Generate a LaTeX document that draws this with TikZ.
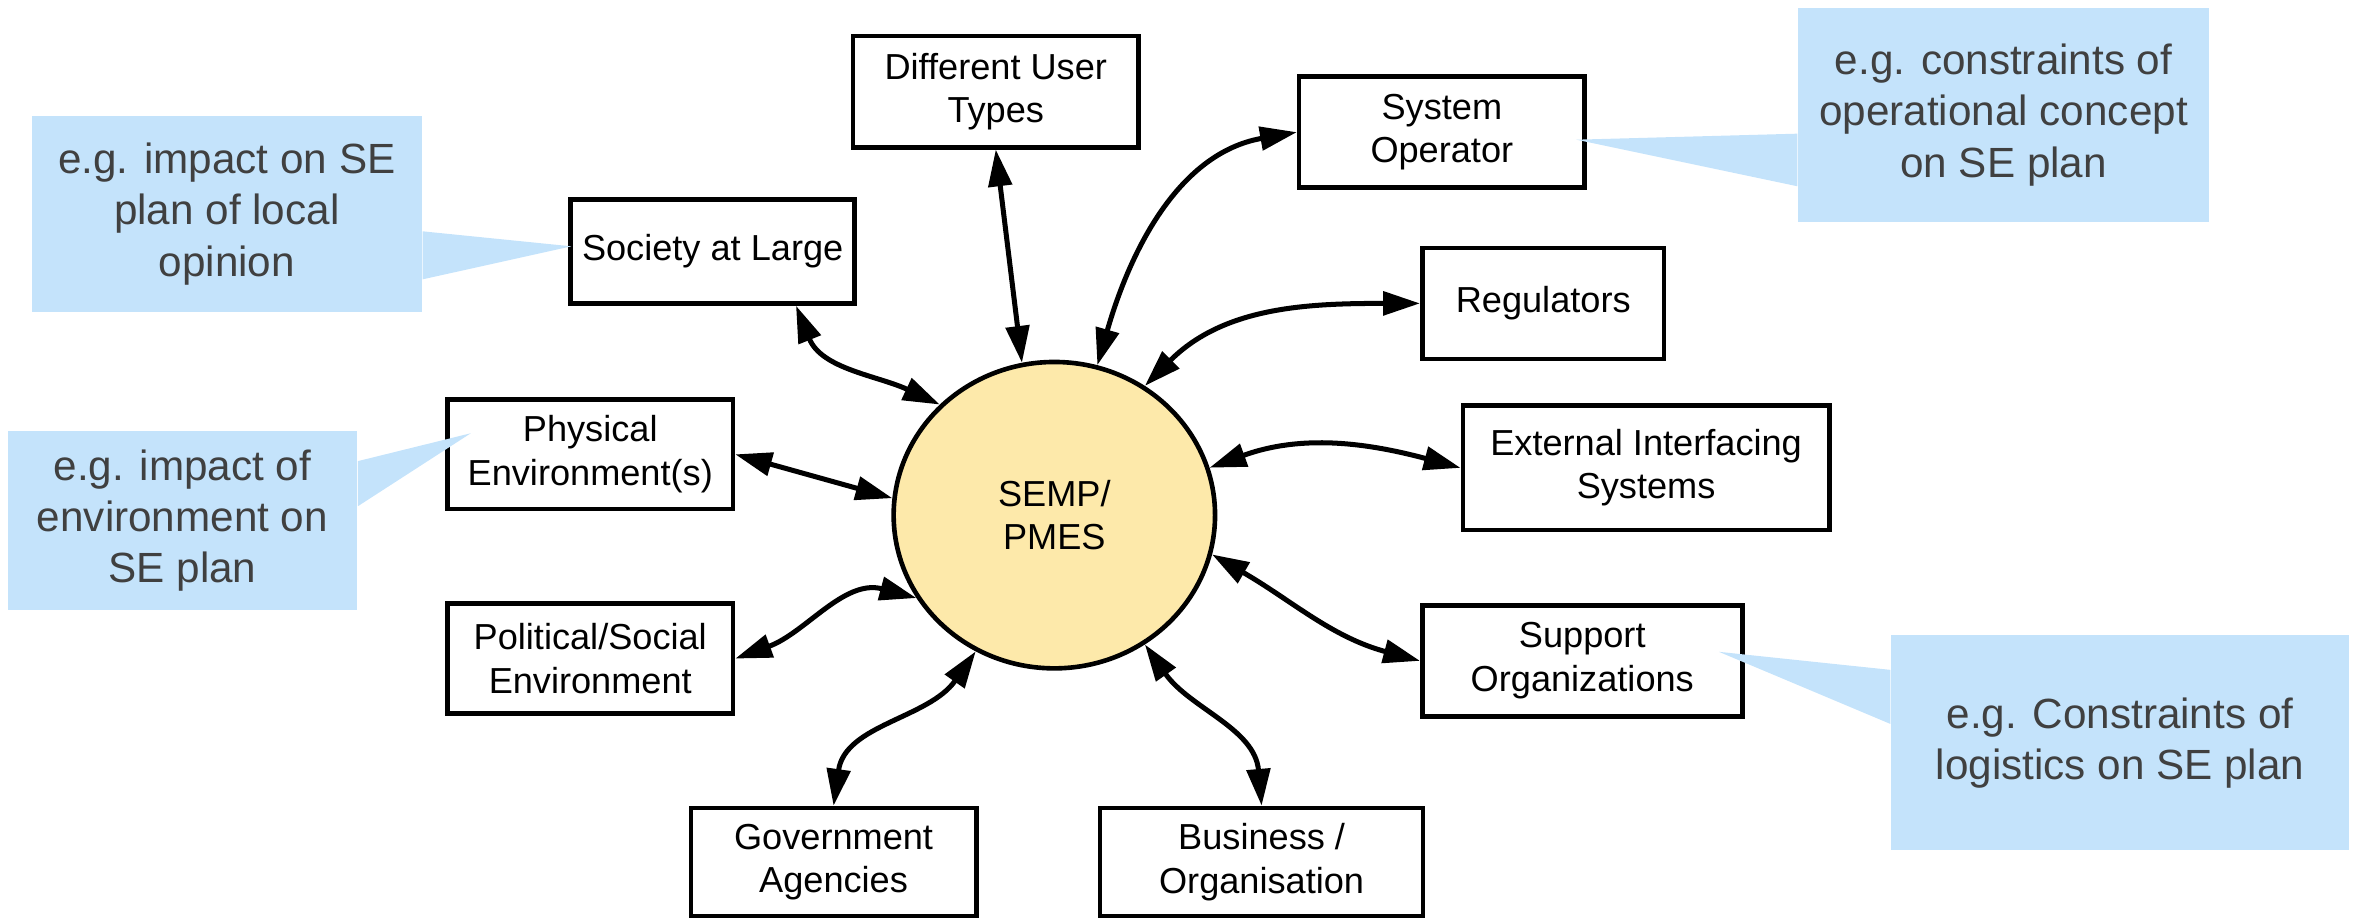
\documentclass[tikz,border=0pt]{standalone}
\usepackage{fontspec}
\setmainfont{Liberation Sans}
\usepackage{tikz}
\usetikzlibrary{arrows.meta, calc, shapes.geometric}

\definecolor{planfill}{RGB}{253,233,170}
\definecolor{notefill}{RGB}{196,227,251}
\definecolor{notetext}{RGB}{64,64,64}

\newcommand{\partyfont}{\fontsize{13.7}{16.5}\selectfont}
\newcommand{\notefont}{\fontsize{16}{19.4}\selectfont}

\begin{document}
\begin{tikzpicture}[x=0.2mm, y=0.2mm,
	party/.style={draw, line width=1.75pt, fill=white, align=center, inner sep=0pt, font=\partyfont},
	plan/.style={ellipse, draw, line width=1.75pt, fill=planfill, align=center, inner sep=0pt, font=\partyfont},
	note/.style={fill=notefill, text=notetext, align=center, inner sep=0pt, font=\notefont},
	link/.style={line width=1.9pt, {Triangle[length=4.9mm, width=3.1mm]}-{Triangle[length=4.9mm, width=3.1mm]}}]

	\useasboundingbox (0,0) rectangle (1568,-611);

	% centre
	\node[plan, minimum width=42.8mm, minimum height=40.8mm] (SEMP) at (702,-343) {SEMP/\\PMES};

	% stakeholders
	\node[party, minimum width=38mm, minimum height=14.8mm] (Users) at (663,-61) {Different User\\Types};
	\node[party, minimum width=38mm, minimum height=14.8mm] (Operator) at (960,-88) {System\\Operator};
	\node[party, minimum width=37.8mm, minimum height=13.8mm] (Society) at (474.5,-167.5) {Society at Large};
	\node[party, minimum width=32.2mm, minimum height=14.8mm] (Regulators) at (1027.5,-202) {Regulators};
	\node[party, minimum width=38mm, minimum height=14.6mm] (Physical) at (393,-302.5) {Physical\\Environment(s)};
	\node[party, minimum width=48.8mm, minimum height=16.6mm] (Interfaces) at (1096,-311.5) {External Interfacing\\Systems};
	\node[party, minimum width=38mm, minimum height=14.6mm] (Political) at (393,-438.5) {Political/Social\\Environment};
	\node[party, minimum width=42.6mm, minimum height=14.8mm] (Support) at (1053.5,-440) {Support\\Organizations};
	\node[party, minimum width=38mm, minimum height=14.4mm] (Government) at (555,-574) {Government\\Agencies};
	\node[party, minimum width=43mm, minimum height=14.4mm] (Business) at (840,-574) {Business /\\Organisation};

	\draw[link] (Users.south) -- (SEMP.102);
	\draw[link] (SEMP.74) to[out=74, in=190] (Operator.west);
	\draw[link] (SEMP.55) to[out=45, in=180] (Regulators.west);
	\draw[link] (SEMP.17) to[out=20, in=165] (Interfaces.west);
	\draw[link] (SEMP.-14) to[out=-30, in=165] (Support.west);
	\draw[link] (SEMP.-55) to[out=-55, in=95] (Business.north);
	\draw[link] (SEMP.240) to[out=235, in=82] (Government.north);
	\draw[link] (SEMP.211) to[out=165, in=20] (Political.east);
	\draw[link] (SEMP.174) -- (Physical.east);
	\draw[link] (SEMP.136) to[out=155, in=-68] (Society.-33);

	% callouts
	\node[note, minimum width=52mm, minimum height=26.2mm] (NoteSociety) at (151,-142.5) {e.g. impact on SE\\plan of local\\opinion};
	\node[note, minimum width=46.6mm, minimum height=23.8mm] (NoteEnvironment) at (121.5,-346.5) {e.g. impact of\\environment on\\SE plan};
	\node[note, minimum width=54.8mm, minimum height=28.6mm] (NoteOperator) at (1334,-76.5) {e.g. constraints of\\operational concept\\on SE plan};
	\node[note, minimum width=61mm, minimum height=28.6mm] (NoteSupport) at (1411.5,-494.5) {e.g. Constraints of\\logistics on SE plan};

	\fill[notefill] ($(NoteSociety.east)+(0,-11.5)$) -- ($(Society.west)+(2,3.5)$) -- ($(NoteSociety.east)+(0,-43.5)$) -- cycle;
	\fill[notefill] ($(NoteEnvironment.east)+(0,39.5)$) -- ($(Physical.north west)+(17,-24)$) -- ($(NoteEnvironment.east)+(0,9.5)$) -- cycle;
	\fill[notefill] ($(NoteOperator.west)+(0,-12.5)$) -- ($(Operator.east)+(-7,-5)$) -- ($(NoteOperator.west)+(0,-47.5)$) -- cycle;
	\fill[notefill] ($(NoteSupport.west)+(0,48.5)$) -- ($(Support.east)+(-17,6)$) -- ($(NoteSupport.west)+(0,12.5)$) -- cycle;

\end{tikzpicture}
\end{document}
